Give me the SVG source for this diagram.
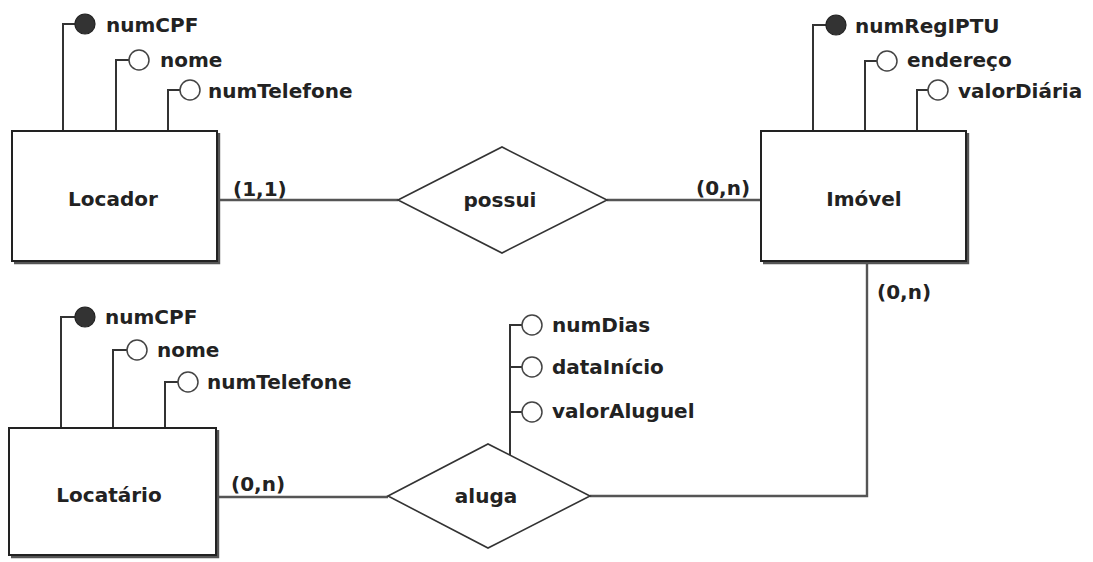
<svg xmlns="http://www.w3.org/2000/svg" width="1093" height="562" viewBox="0 0 1093 562">
<style>
text{font-family:"DejaVu Sans","Verdana",sans-serif;font-weight:bold;font-size:20px;fill:#222}
.lbl{text-anchor:middle;font-size:20px}
.box{fill:#fff;stroke:#222;stroke-width:2}
.shadow{fill:none;stroke:#555;stroke-width:2.4}
.rel{fill:#fff;stroke:#333;stroke-width:1.6}
.conn{fill:none;stroke:#555;stroke-width:2.4}
.att{fill:none;stroke:#333;stroke-width:2}
.key{fill:#333;stroke:#222;stroke-width:1.2}
.opt{fill:#fff;stroke:#444;stroke-width:1.5}
</style>
<g id="connectors">
<path class="conn" d="M218 200H398"/>
<path class="conn" d="M607 200H761"/>
<path class="conn" d="M216 497H388"/>
<path class="conn" d="M590 496H867V263"/>
<text x="233" y="196">(1,1)</text>
<text x="696" y="195">(0,n)</text>
<text x="877" y="299">(0,n)</text>
<text x="231" y="491">(0,n)</text>
</g>
<g id="locador">
<path class="att" d="M63 131V24H75M116 131V60H129M168 131V90H180"/>
<circle class="key" cx="85" cy="24" r="10"/>
<circle class="opt" cx="139" cy="60" r="10"/>
<circle class="opt" cx="190" cy="90" r="10"/>
<text x="106" y="32">numCPF</text>
<text x="160" y="67">nome</text>
<text x="208" y="98">numTelefone</text>
<path class="shadow" d="M219 133V263H14"/>
<rect class="box" x="12" y="131" width="205" height="130"/>
<text class="lbl" x="113" y="206">Locador</text>
</g>
<g id="imovel">
<path class="att" d="M813 131V25H826M865 131V61H877M917 131V90H928"/>
<circle class="key" cx="836" cy="25" r="10"/>
<circle class="opt" cx="887" cy="61" r="10"/>
<circle class="opt" cx="938" cy="90" r="10"/>
<text x="855" y="33">numRegIPTU</text>
<text x="907" y="67">endereço</text>
<text x="958" y="98">valorDiária</text>
<path class="shadow" d="M968 133V263H763"/>
<rect class="box" x="761" y="131" width="205" height="130"/>
<text class="lbl" x="864" y="206">Imóvel</text>
</g>
<g id="locatario">
<path class="att" d="M61 428V317H75M113 428V350H127M165 428V382H178"/>
<circle class="key" cx="85" cy="317" r="10"/>
<circle class="opt" cx="137" cy="350" r="10"/>
<circle class="opt" cx="188" cy="382" r="10"/>
<text x="105" y="324">numCPF</text>
<text x="157" y="357">nome</text>
<text x="207" y="389">numTelefone</text>
<path class="shadow" d="M218 430V557H11"/>
<rect class="box" x="9" y="428" width="207" height="127"/>
<text class="lbl" x="109" y="502">Locatário</text>
</g>
<g id="possui">
<polygon class="rel" points="398,200 502,147 607,200 502,253"/>
<text class="lbl" x="500" y="207">possui</text>
</g>
<g id="aluga">
<path class="att" d="M510 455V325H522M510 367H522M510 412H522"/>
<circle class="opt" cx="532" cy="325" r="10"/>
<circle class="opt" cx="532" cy="367" r="10"/>
<circle class="opt" cx="532" cy="412" r="10"/>
<text x="552" y="332">numDias</text>
<text x="552" y="374">dataInício</text>
<text x="552" y="418">valorAluguel</text>
<polygon class="rel" points="388,496 488,444 590,496 488,548"/>
<text class="lbl" x="486" y="503">aluga</text>
</g>
</svg>
